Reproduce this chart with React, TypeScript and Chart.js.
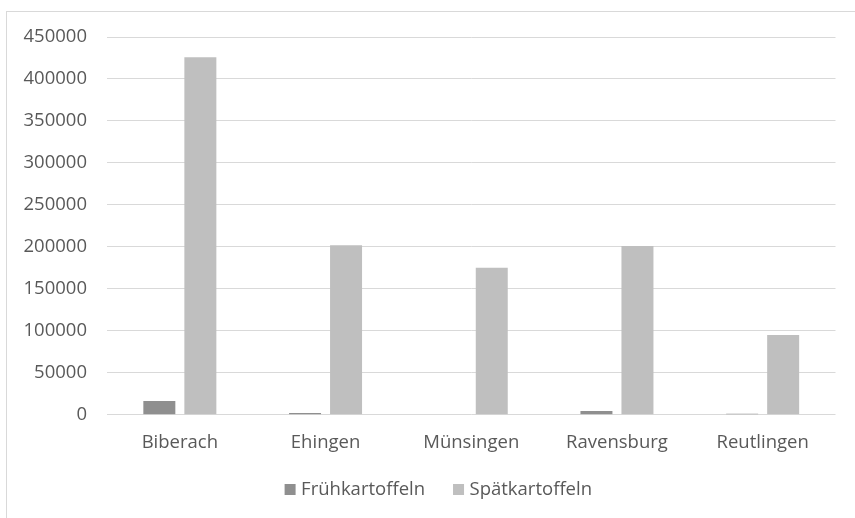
import React, { useEffect, useRef } from "react";
import { Chart, registerables } from "chart.js";

Chart.register(...registerables);

const categories = ["Biberach", "Ehingen", "Münsingen", "Ravensburg", "Reutlingen"];
const fruehLabel = "Frühkartoffeln";
const spaetLabel = "Spätkartoffeln";
const fruehValues = [16300, 2000, 500, 4400, 1200];
const spaetValues = [426000, 202000, 175000, 201000, 95000];
const yMax = 450000;
const yStep = 50000;

const FONT = "'Open Sans', sans-serif";
const TEXT = "#595959";
const FS = 18.5;
const FRUEH_COLOR = "#8f8f8f";
const SPAET_COLOR = "#bfbfbf";

const legendPlugin = {
  id: "excelLegend",
  afterDraw(chart: any) {
    const ctx = chart.ctx;
    const datasets = chart.data.datasets;
    ctx.save();
    ctx.font = `${FS}px ${FONT}`;
    ctx.textBaseline = "middle";
    ctx.textAlign = "left";
    const box = 11;
    const boxGap = 5.5;
    const itemGap = 28;
    const widths = datasets.map((d: any) => box + boxGap + ctx.measureText(d.label).width);
    const total = widths.reduce((a: number, b: number) => a + b, 0) + itemGap * (datasets.length - 1);
    const centerX = 438.3;
    const centerY = 489.5;
    let x = centerX - total / 2;
    datasets.forEach((d: any, i: number) => {
      ctx.fillStyle = d.backgroundColor;
      ctx.fillRect(x, centerY - box / 2, box, box);
      ctx.fillStyle = TEXT;
      ctx.fillText(d.label, x + box + boxGap, centerY);
      x += widths[i] + itemGap;
    });
    ctx.restore();
  },
};

export default function App() {
  const canvasRef = useRef<HTMLCanvasElement | null>(null);

  useEffect(() => {
    const canvas = canvasRef.current;
    if (!canvas) return;
    const chart = new Chart(canvas, {
      type: "bar",
      data: {
        labels: categories,
        datasets: [
          {
            label: fruehLabel,
            data: fruehValues,
            backgroundColor: FRUEH_COLOR,
            categoryPercentage: 0.563,
            barPercentage: 0.78,
          },
          {
            label: spaetLabel,
            data: spaetValues,
            backgroundColor: SPAET_COLOR,
            categoryPercentage: 0.563,
            barPercentage: 0.78,
          },
        ],
      },
      plugins: [legendPlugin],
      options: {
        responsive: false,
        animation: false,
        maintainAspectRatio: false,
        layout: { padding: { top: 37, right: 19.5, left: 0, bottom: 54.3 } },
        plugins: {
          title: { display: false },
          tooltip: { enabled: false },
          legend: { display: false },
        },
        scales: {
          x: {
            grid: { display: false },
            border: { display: false },
            ticks: {
              color: TEXT,
              font: { family: FONT, size: FS },
              padding: 9,
              maxRotation: 0,
            },
            afterFit: (scale: any) => {
              scale.height = 49;
            },
          },
          y: {
            min: 0,
            max: yMax,
            grid: { color: "#d9d9d9", drawTicks: false, lineWidth: 1 },
            border: { display: false },
            ticks: {
              stepSize: yStep,
              color: TEXT,
              font: { family: FONT, size: FS },
              padding: 20,
              callback: (v: any) => String(v),
            },
            afterFit: (scale: any) => {
              scale.width = 107;
            },
          },
        },
      },
    });
    return () => chart.destroy();
  }, []);

  return (
    <div
      style={{
        position: "fixed",
        left: 0,
        top: 0,
        width: 855,
        height: 518,
        overflow: "hidden",
        background: "#ffffff",
      }}
    >
      <div
        style={{
          position: "absolute",
          left: 6,
          top: 11,
          width: 900,
          height: 600,
          border: "1px solid #d9d9d9",
          boxSizing: "border-box",
        }}
      />
      <canvas
        ref={canvasRef}
        width={855}
        height={518}
        style={{ position: "absolute", left: 0, top: 0, width: 855, height: 518 }}
      />
    </div>
  );
}
